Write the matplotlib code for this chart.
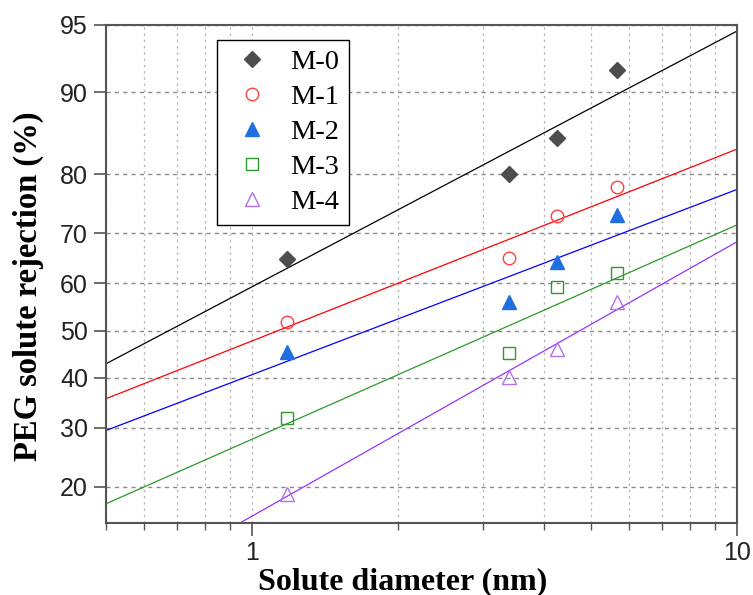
from statistics import NormalDist
import numpy as np
import matplotlib
matplotlib.use("Agg")
import matplotlib.pyplot as plt
from matplotlib.ticker import FixedLocator, FixedFormatter, NullFormatter, LogLocator

# PEG solute diameters (nm) and rejection (%) for each membrane
diametro = [1.18, 3.39, 4.25, 5.66]
rechazo_m0 = [65.0, 80.1, 85.0, 92.0]
rechazo_m1 = [51.9, 65.1, 73.1, 78.0]
rechazo_m2 = [45.3, 56.2, 64.3, 73.3]
rechazo_m3 = [31.9, 45.1, 59.2, 62.1]
rechazo_m4 = [19.0, 40.2, 46.1, 56.2]
nombres = ["M-0", "M-1", "M-2", "M-3", "M-4"]
ticks_y = [20, 30, 40, 50, 60, 70, 80, 90, 95]

nd = NormalDist()
_ppf = np.vectorize(lambda p: nd.inv_cdf(min(max(p / 100.0, 1e-9), 1 - 1e-9)), otypes=[float])
_cdf = np.vectorize(lambda z: 100.0 * nd.cdf(z), otypes=[float])

def probit(p):
    return _ppf(np.asarray(p, dtype=float))

def probit_inv(z):
    return _cdf(np.asarray(z, dtype=float))

estilos = [
    dict(marker="D", mfc="#4d4d4d", mec="#4d4d4d", ms=8.5, linea="black"),
    dict(marker="o", mfc="none", mec="#ff4040", ms=9, linea="#ff0000"),
    dict(marker="^", mfc="#1f6fe0", mec="#1f6fe0", ms=10, linea="#0000ff"),
    dict(marker="s", mfc="none", mec="#2e9a2e", ms=8, linea="#2a9a2a"),
    dict(marker="^", mfc="none", mec="#b070e8", ms=10, linea="#9933ff"),
]
series = [rechazo_m0, rechazo_m1, rechazo_m2, rechazo_m3, rechazo_m4]

fig = plt.figure(figsize=(7.53, 5.95), dpi=100)
ax = fig.add_axes([0.1408, 0.121, 0.838, 0.837])
ax.set_xscale("log")
ax.set_yscale("function", functions=(probit, probit_inv))
ax.set_xlim(0.5, 10)
ax.set_ylim(15, 95)

xs = np.array([0.5, 10.0])
for nombre, y, est in zip(nombres, series, estilos):
    # ajuste lineal en coordenadas log(d) vs probit(R)
    m, b = np.polyfit(np.log10(diametro), probit(y), 1)
    ax.plot(xs, probit_inv(m * np.log10(xs) + b), color=est["linea"], lw=0.9, zorder=2)
    ax.plot(diametro, y, linestyle="none", marker=est["marker"], mfc=est["mfc"],
            mec=est["mec"], ms=est["ms"], mew=1.0, label=nombre, zorder=3)

ax.yaxis.set_major_locator(FixedLocator(ticks_y))
ax.yaxis.set_minor_locator(FixedLocator([]))
ax.yaxis.set_major_formatter(FixedFormatter([str(t) for t in ticks_y]))
ax.xaxis.set_major_locator(FixedLocator([1, 10]))
ax.xaxis.set_major_formatter(FixedFormatter(["1", "10"]))
ax.xaxis.set_minor_locator(LogLocator(base=10, subs=np.arange(2, 10)))
ax.xaxis.set_minor_formatter(NullFormatter())

ax.grid(axis="y", which="major", color="#8a8a8a", linestyle=(0, (3, 3)), lw=1.0)
ax.grid(axis="x", which="both", color="#b5b5b5", linestyle=(0, (2, 3)), lw=0.9)
ax.set_axisbelow(True)

for s in ax.spines.values():
    s.set_color("#555555")
    s.set_linewidth(1.5)
ax.tick_params(which="major", direction="out", length=9, width=1.2, color="#555555",
               labelsize=18, pad=4)
ax.tick_params(which="minor", direction="out", length=5, width=1.0, color="#555555")
for lab in ax.get_xticklabels() + ax.get_yticklabels():
    lab.set_family("Liberation Sans")
    lab.set_color("#222222")

ax.set_xlabel("Solute diameter (nm)", family="Liberation Serif", weight="bold",
              fontsize=23)
ax.set_ylabel("PEG solute rejection (%)", family="Liberation Serif", weight="bold",
              fontsize=23.5)
ax.xaxis.set_label_coords(0.47, -0.088)
ax.yaxis.set_label_coords(-0.098, 0.475)

leg = ax.legend(loc="upper left", bbox_to_anchor=(0.176, 0.970), borderaxespad=0,
                prop=dict(family="Liberation Serif", size=20.5), fancybox=False,
                framealpha=1, edgecolor="black", handletextpad=0.45,
                labelspacing=0.32, borderpad=0.33, handlelength=1.8)
leg.get_frame().set_linewidth(1.0)

fig.savefig("out.png", dpi=100)
